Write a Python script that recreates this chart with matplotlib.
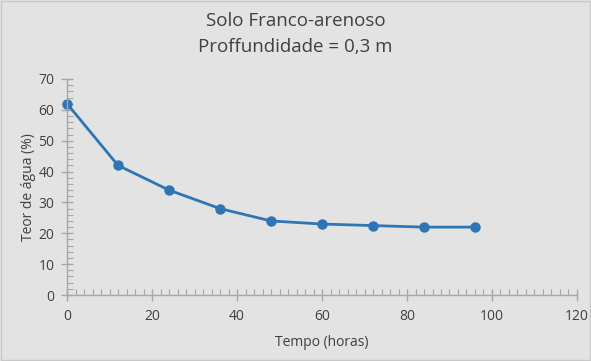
import matplotlib
matplotlib.use("Agg")
import matplotlib.pyplot as plt
from matplotlib.ticker import MultipleLocator

# data
tempo_horas = [0, 12, 24, 36, 48, 60, 72, 84, 96]
teor_agua = [62, 42, 34, 28, 24, 23, 22.5, 22, 22]

BG = "#e3e3e3"
AXIS = "#a6a6a6"
TEXT = "#404040"
BLUE = "#2e75b6"

plt.rcParams["font.family"] = ["Open Sans", "DejaVu Sans"]

fig = plt.figure(figsize=(5.91, 3.61), dpi=100, facecolor=BG)
ax = fig.add_axes([0.1134, 0.1828, 0.8629, 0.5984], facecolor=BG)

ax.plot(tempo_horas, teor_agua, color=BLUE, lw=2, marker="o", ms=6.5,
        markerfacecolor=BLUE, markeredgecolor=BLUE, clip_on=False)

ax.set_xlim(0, 120)
ax.set_ylim(0, 70)
ax.xaxis.set_major_locator(MultipleLocator(20))
ax.xaxis.set_minor_locator(MultipleLocator(2))
ax.yaxis.set_major_locator(MultipleLocator(10))
ax.yaxis.set_minor_locator(MultipleLocator(2))

for side in ["top", "right"]:
    ax.spines[side].set_visible(False)
for side in ["left", "bottom"]:
    ax.spines[side].set_color(AXIS)
    ax.spines[side].set_linewidth(1)

ax.tick_params(which="major", direction="inout", length=8, width=1,
               color=AXIS, labelcolor=TEXT, labelsize=10)
ax.tick_params(axis="x", which="major", pad=6)
ax.tick_params(axis="y", which="major", pad=5)
ax.tick_params(which="minor", direction="in", length=4, width=0.8, color=AXIS)

ax.set_xlabel("Tempo (horas)", color=TEXT, fontsize=10, labelpad=8)
ax.set_ylabel("Teor de água (%)", color=TEXT, fontsize=10, labelpad=2)

fig.text(0.5, 0.943, "Solo Franco-arenoso", ha="center", va="center",
         fontsize=13.5, color=TEXT)
fig.text(0.5, 0.871, "Proffundidade = 0,3 m", ha="center", va="center",
         fontsize=13.5, color=TEXT)

# thin frame around the whole picture
fig.patches.append(plt.Rectangle((0.002, 0.003), 0.996, 0.994, transform=fig.transFigure,
                                 fill=False, edgecolor="#c8c8c8", lw=1))

fig.savefig("out.png", dpi=100, facecolor=BG)
